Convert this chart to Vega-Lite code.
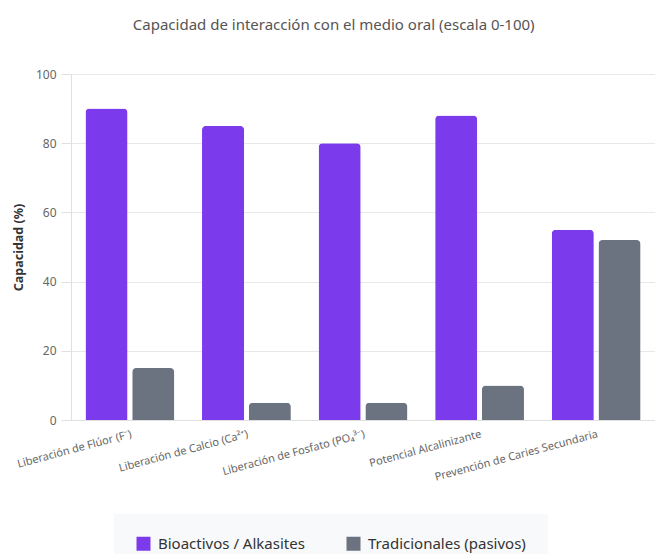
{
  "$schema": "https://vega.github.io/schema/vega-lite/v6.json",
  "width": 584,
  "height": 346,
  "padding": {"left": 12, "top": 18, "right": 0, "bottom": 0},
  "background": "white",
  "title": {"text": "Capacidad de interacción con el medio oral (escala 0-100)", "fontSize": 15, "fontWeight": "normal", "color": "#555555", "font": "Noto Sans", "offset": 35, "anchor": "middle", "frame": "bounds"},
  "config": {"font": "Noto Sans", "view": {"stroke": null}},
  "data": {"values": [
    {"cat": "Liberación de Flúor (F⁻)", "serie": "Bioactivos / Alkasites", "valor": 90},
    {"cat": "Liberación de Flúor (F⁻)", "serie": "Tradicionales (pasivos)", "valor": 15},
    {"cat": "Liberación de Calcio (Ca²⁺)", "serie": "Bioactivos / Alkasites", "valor": 85},
    {"cat": "Liberación de Calcio (Ca²⁺)", "serie": "Tradicionales (pasivos)", "valor": 5},
    {"cat": "Liberación de Fosfato (PO₄³⁻)", "serie": "Bioactivos / Alkasites", "valor": 80},
    {"cat": "Liberación de Fosfato (PO₄³⁻)", "serie": "Tradicionales (pasivos)", "valor": 5},
    {"cat": "Potencial Alcalinizante", "serie": "Bioactivos / Alkasites", "valor": 88},
    {"cat": "Potencial Alcalinizante", "serie": "Tradicionales (pasivos)", "valor": 10},
    {"cat": "Prevención de Caries Secundaria", "serie": "Bioactivos / Alkasites", "valor": 55},
    {"cat": "Prevención de Caries Secundaria", "serie": "Tradicionales (pasivos)", "valor": 52}
  ]},
  "mark": {"type": "bar", "cornerRadiusTopLeft": 4, "cornerRadiusTopRight": 4},
  "encoding": {
    "x": {"field": "cat", "type": "nominal", "sort": null,
      "scale": {"paddingInner": 0.238, "paddingOuter": 0.124},
      "axis": {"title": null, "labelAngle": -15, "labelAlign": "right", "labelBaseline": "top", "labelFontSize": 11, "labelColor": "#666666", "ticks": false, "domainColor": "#e0e0e0", "labelPadding": 8, "grid": false}},
    "xOffset": {"field": "serie", "type": "nominal", "scale": {"paddingInner": 0.1}},
    "y": {"field": "valor", "type": "quantitative", "scale": {"domain": [0, 100]},
      "axis": {"title": "Capacidad (%)", "titleFontSize": 12.5, "titleFontWeight": "bold", "titleColor": "#333333", "labelFontSize": 12, "labelColor": "#666666", "tickCount": 5, "gridColor": "#e8e8e8", "domainColor": "#e0e0e0", "tickColor": "#e0e0e0", "tickSize": 10, "labelPadding": 5, "titlePadding": 10}},
    "color": {"field": "serie", "type": "nominal",
      "scale": {"domain": ["Bioactivos / Alkasites", "Tradicionales (pasivos)"], "range": ["#7c3aed", "#6b7280"]},
      "legend": {"title": null, "orient": "none", "legendX": 43, "legendY": 440, "direction": "horizontal", "symbolType": "square", "symbolSize": 196, "symbolOpacity": 1, "symbolStrokeWidth": 0, "labelFontSize": 15, "labelColor": "#333333", "labelOffset": 7, "columnPadding": 41, "fillColor": "#f8f9fa", "padding": 22}}
  }
}
